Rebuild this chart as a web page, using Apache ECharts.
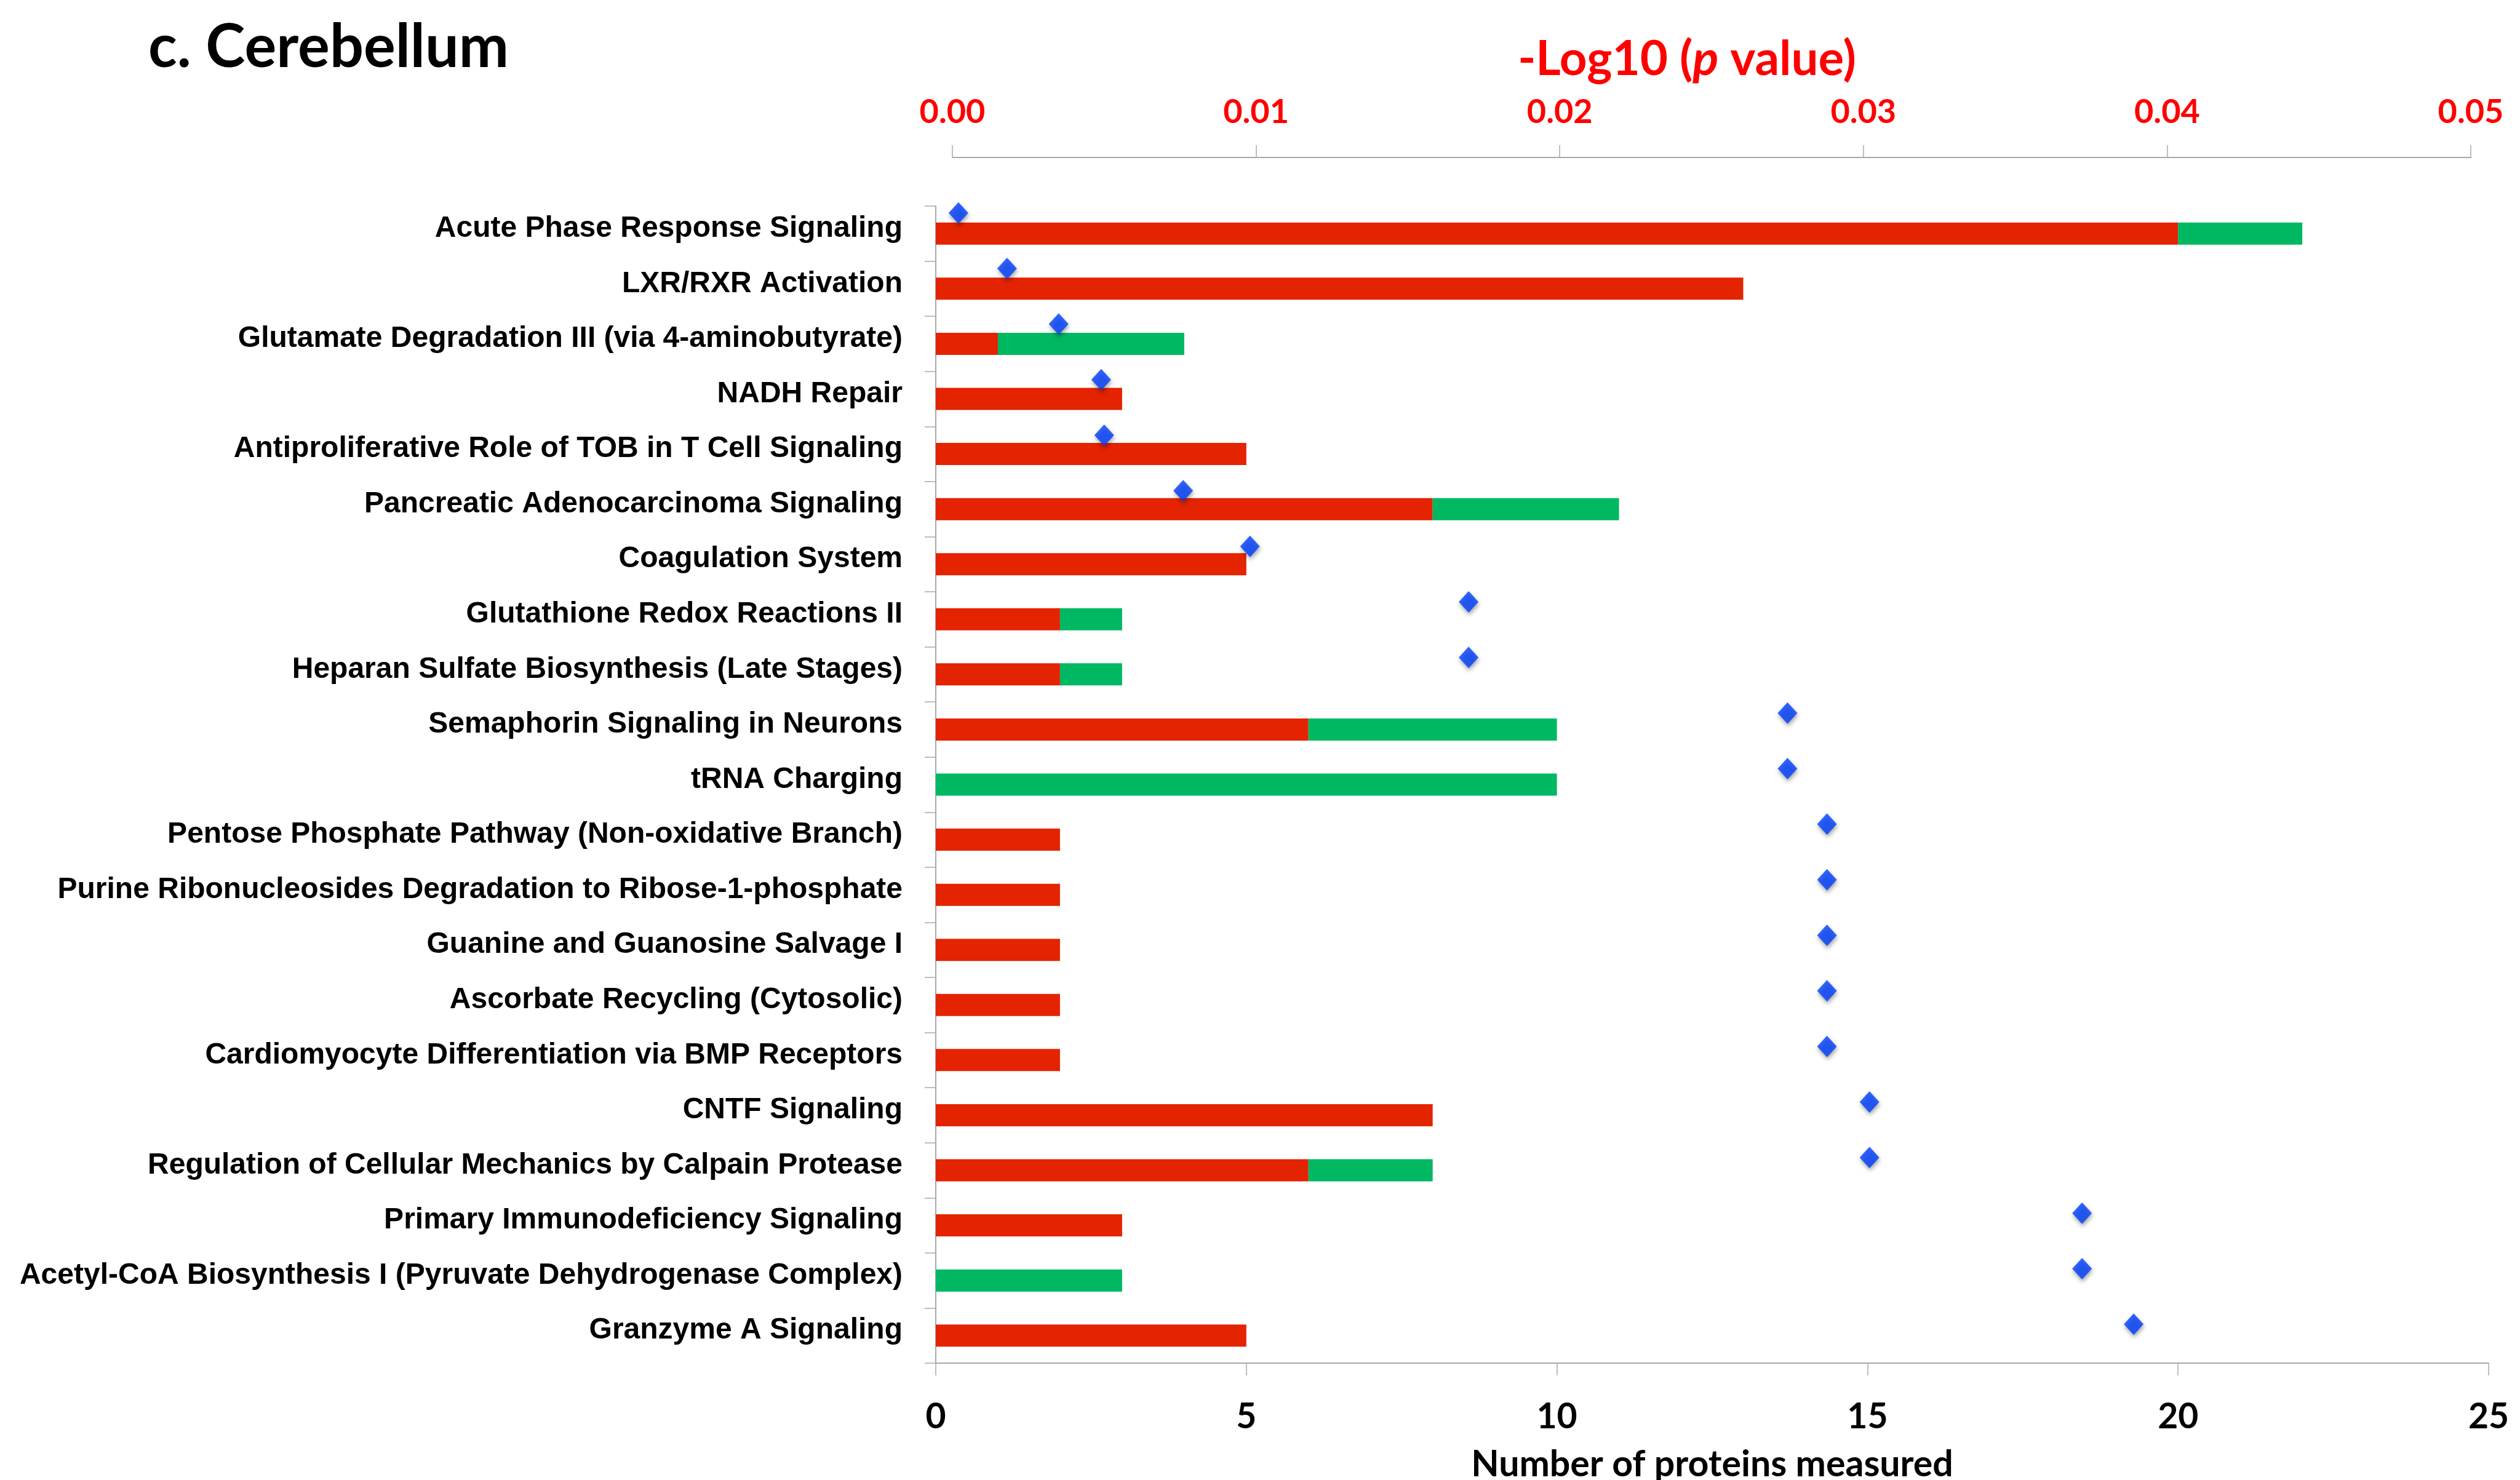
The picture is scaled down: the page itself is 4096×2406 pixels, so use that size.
<!DOCTYPE html>
<html>
<head>
<meta charset="utf-8">
<script src="https://cdn.jsdelivr.net/npm/echarts@6/dist/echarts.min.js"></script>
<style>
html,body{margin:0;padding:0;background:#fff;}
#chart{width:4096px;height:2406px;}
</style>
</head>
<body>
<div id="chart"></div>
<script>
const categories = [
  "Acute Phase Response Signaling",
  "LXR/RXR Activation",
  "Glutamate Degradation III (via 4-aminobutyrate)",
  "NADH Repair",
  "Antiproliferative Role of TOB in T Cell Signaling",
  "Pancreatic Adenocarcinoma Signaling",
  "Coagulation System",
  "Glutathione Redox Reactions II",
  "Heparan Sulfate Biosynthesis (Late Stages)",
  "Semaphorin Signaling in Neurons",
  "tRNA Charging",
  "Pentose Phosphate Pathway (Non-oxidative Branch)",
  "Purine Ribonucleosides Degradation to Ribose-1-phosphate",
  "Guanine and Guanosine Salvage I",
  "Ascorbate Recycling (Cytosolic)",
  "Cardiomyocyte Differentiation via BMP Receptors",
  "CNTF Signaling",
  "Regulation of Cellular Mechanics by Calpain Protease",
  "Primary Immunodeficiency Signaling",
  "Acetyl-CoA Biosynthesis I (Pyruvate Dehydrogenase Complex)",
  "Granzyme A Signaling"
];
const redCounts   = [20, 13, 1, 3, 5, 8, 5, 2, 2, 6, 0, 2, 2, 2, 2, 2, 8, 6, 3, 0, 5];
const greenCounts = [2, 0, 3, 0, 0, 3, 0, 1, 1, 4, 10, 0, 0, 0, 0, 0, 0, 2, 0, 3, 0];
const logP = [0.0002, 0.0018, 0.0035, 0.0049, 0.0050, 0.0076, 0.0098, 0.0170, 0.0170, 0.0275, 0.0275,
              0.0288, 0.0288, 0.0288, 0.0288, 0.0288, 0.0302, 0.0302, 0.0372, 0.0372, 0.0389];
const bottomTicks = [0, 5, 10, 15, 20, 25];
const topTicks = [0, 0.01, 0.02, 0.03, 0.04, 0.05];

const chart = echarts.init(document.getElementById('chart'), null, {renderer: 'canvas'});
const gray = '#A9A9A9';
const numFont = 'Lato';
const catFont = "'Liberation Sans Narrow', 'Arial Narrow', 'Liberation Sans', sans-serif";

const option = {
  animation: false,
  backgroundColor: '#ffffff',
  title: {
    text: 'c. Cerebellum',
    left: 236,
    top: 24,
    textStyle: {fontFamily: numFont, fontWeight: 'bold', fontSize: 97, color: '#000'}
  },
  grid: [
    {left: 1521, right: 51, top: 335, bottom: 190, containLabel: false, outerBoundsMode: 'none'},
    {left: 1548, right: 80, top: 301, bottom: 208, containLabel: false, outerBoundsMode: 'none'}
  ],
  xAxis: [
    {
      type: 'value', gridIndex: 0, position: 'bottom',
      min: bottomTicks[0], max: bottomTicks[bottomTicks.length - 1], interval: bottomTicks[1] - bottomTicks[0],
      axisLine: {show: true, lineStyle: {color: gray, width: 2}},
      axisTick: {show: true, inside: false, length: 20, lineStyle: {color: gray, width: 1.5}},
      splitLine: {show: false},
      axisLabel: {margin: 59, fontFamily: numFont, fontWeight: 'bold', fontSize: 57, color: '#000'},
      name: 'Number of proteins measured', nameLocation: 'middle', nameGap: 135,
      nameTextStyle: {fontFamily: numFont, fontWeight: 'bold', fontSize: 59, color: '#000'}
    },
    {
      type: 'value', gridIndex: 1, position: 'top', offset: 45,
      min: topTicks[0], max: topTicks[topTicks.length - 1], interval: topTicks[1] - topTicks[0],
      axisLine: {show: true, lineStyle: {color: gray, width: 2}},
      axisTick: {show: true, inside: false, length: 20, lineStyle: {color: gray, width: 1.5}},
      splitLine: {show: false},
      axisLabel: {margin: 46, fontFamily: numFont, fontWeight: 'bold', fontSize: 54, color: '#FF0000',
                  formatter: v => v.toFixed(2)},
      name: '{a|-Log10 (}{b|p}{a| value)}', nameLocation: 'middle', nameGap: 120,
      nameTextStyle: {
        padding: [0, 80, 0, 0],
        rich: {
          a: {fontFamily: numFont, fontWeight: 'bold', fontSize: 78, color: '#FF0000'},
          b: {fontFamily: numFont, fontWeight: 'bold', fontStyle: 'italic', fontSize: 78, color: '#FF0000'}
        }
      }
    }
  ],
  yAxis: [
    {
      type: 'category', gridIndex: 0, data: categories, inverse: true,
      axisLine: {show: true, lineStyle: {color: gray, width: 2}},
      axisTick: {show: true, inside: false, length: 18, lineStyle: {color: gray, width: 1.5}},
      axisLabel: {interval: 0, margin: 54, fontFamily: catFont, fontWeight: 'bold', fontSize: 48, color: '#000',
                  verticalAlign: 'bottom', lineHeight: 16}
    },
    {
      type: 'category', gridIndex: 1, data: categories, inverse: true, show: false
    }
  ],
  series: [
    {
      type: 'bar', name: 'red', xAxisIndex: 0, yAxisIndex: 0, stack: 'n', data: redCounts,
      barWidth: 36, itemStyle: {color: '#E42300'}
    },
    {
      type: 'bar', name: 'green', xAxisIndex: 0, yAxisIndex: 0, stack: 'n', data: greenCounts,
      barWidth: 36, itemStyle: {color: '#00B862'}
    },
    {
      type: 'scatter', name: 'p', xAxisIndex: 1, yAxisIndex: 1,
      data: logP.map((v, i) => [v, categories[i]]),
      symbol: 'diamond', symbolSize: [32, 35],
      itemStyle: {color: '#0040FF', shadowColor: 'rgba(0,0,0,0.45)', shadowBlur: 7, shadowOffsetX: 1, shadowOffsetY: 4}
    }
  ]
};
chart.setOption(option);
</script>
</body>
</html>
